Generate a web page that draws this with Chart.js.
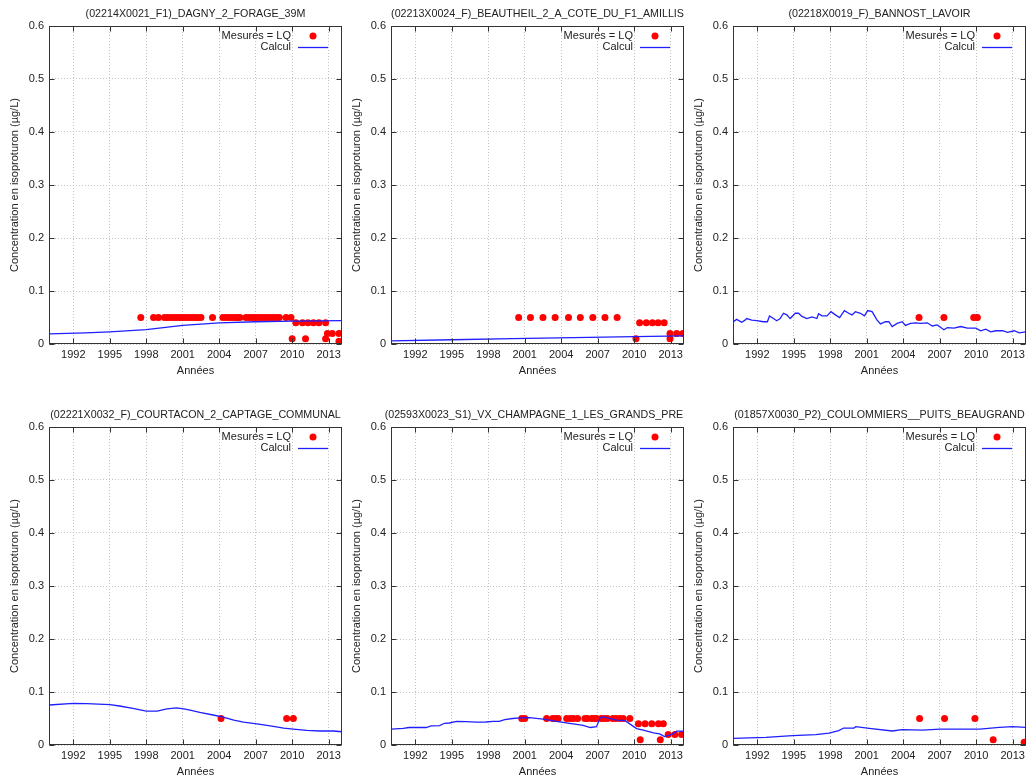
<!DOCTYPE html>
<html lang="fr">
<head>
<meta charset="utf-8">
<title>Concentration en isoproturon</title>
<script src="https://cdn.jsdelivr.net/npm/chart.js@4.4.1/dist/chart.umd.min.js"></script>
<style>
  html, body { margin: 0; padding: 0; background: #fff; overflow: hidden; }
  body { width: 1026px; height: 780px; position: relative; }
  .panel { position: absolute; width: 342px; height: 379px; }
</style>
</head>
<body>
<div class="panel" style="left:0;top:0"><canvas id="c0"></canvas></div>
<div class="panel" style="left:342px;top:0"><canvas id="c1"></canvas></div>
<div class="panel" style="left:684px;top:0"><canvas id="c2"></canvas></div>
<div class="panel" style="left:0;top:401px"><canvas id="c3"></canvas></div>
<div class="panel" style="left:342px;top:401px"><canvas id="c4"></canvas></div>
<div class="panel" style="left:684px;top:401px"><canvas id="c5"></canvas></div>
<script>
// DATA
const panelTitles = [
  "(02214X0021_F1)_DAGNY_2_FORAGE_39M",
  "(02213X0024_F)_BEAUTHEIL_2_A_COTE_DU_F1_AMILLIS",
  "(02218X0019_F)_BANNOST_LAVOIR",
  "(02221X0032_F)_COURTACON_2_CAPTAGE_COMMUNAL",
  "(02593X0023_S1)_VX_CHAMPAGNE_1_LES_GRANDS_PRES",
  "(01857X0030_P2)_COULOMMIERS__PUITS_BEAUGRAND"
];
const seriesLabels = ["Mesures = LQ", "Calcul"];
const xAxisTitle = "Années";
const yAxisTitle = "Concentration en isoproturon (µg/L)";
const xTickYears = [1992, 1995, 1998, 2001, 2004, 2007, 2010, 2013];
const xTickLabels = ["1992", "1995", "1998", "2001", "2004", "2007", "2010", "2013"];
const yTickValues = [0, 0.1, 0.2, 0.3, 0.4, 0.5, 0.6];
const yTickLabels = ["0", "0.1", "0.2", "0.3", "0.4", "0.5", "0.6"];

// DAGNY
const dagnyCalcYears = [1990, 1993, 1995, 1998, 2001, 2004, 2007, 2010, 2014.1];
const dagnyCalcValues = [0.019, 0.021, 0.023, 0.027, 0.035, 0.040, 0.042, 0.043, 0.044];
const dagnyLqYears = [1997.55, 1998.6, 1999.0, 1999.5, 1999.75, 2000.0, 2000.25, 2000.5, 2000.75, 2001.0,
  2001.25, 2001.5, 2001.75, 2002.0, 2002.25, 2002.5, 2003.45, 2004.3, 2004.55, 2004.8,
  2005.05, 2005.3, 2005.5, 2005.7, 2006.2, 2006.45, 2006.7, 2006.95, 2007.2, 2007.45,
  2007.7, 2007.95, 2008.2, 2008.45, 2008.7, 2008.95, 2009.5, 2009.9,
  2010.3, 2010.85, 2011.3, 2011.75, 2012.2, 2012.75,
  2010.0, 2011.1, 2012.75,
  2012.9, 2013.3, 2013.85,
  2013.85];
const dagnyLqValues = [0.05, 0.05, 0.05, 0.05, 0.05, 0.05, 0.05, 0.05, 0.05, 0.05,
  0.05, 0.05, 0.05, 0.05, 0.05, 0.05, 0.05, 0.05, 0.05, 0.05,
  0.05, 0.05, 0.05, 0.05, 0.05, 0.05, 0.05, 0.05, 0.05, 0.05,
  0.05, 0.05, 0.05, 0.05, 0.05, 0.05, 0.05, 0.05,
  0.04, 0.04, 0.04, 0.04, 0.04, 0.04,
  0.01, 0.01, 0.01,
  0.02, 0.02, 0.02,
  0.005];

// BEAUTHEIL
const beautheilCalcYears = [1990, 1995, 2000, 2005, 2010, 2014.1];
const beautheilCalcValues = [0.006, 0.008, 0.010, 0.012, 0.014, 0.0155];
const beautheilLqYears = [2000.5, 2001.47, 2002.5, 2003.5, 2004.6, 2005.57, 2006.6, 2007.6, 2008.6,
  2010.45, 2011.0, 2011.5, 2011.97, 2012.47,
  2010.15, 2012.95,
  2012.95, 2013.5, 2014.0];
const beautheilLqValues = [0.05, 0.05, 0.05, 0.05, 0.05, 0.05, 0.05, 0.05, 0.05,
  0.04, 0.04, 0.04, 0.04, 0.04,
  0.01, 0.01,
  0.02, 0.02, 0.02];

// BANNOST
const bannostCalcYears = [1990.03, 1990.3, 1990.72, 1990.99, 1991.13, 1991.54, 1991.95, 1992.5, 1992.83, 1993.0,
  1993.33, 1993.6, 1993.88, 1994.15, 1994.43, 1994.7, 1995.12, 1995.39, 1995.67, 1996.08,
  1996.49, 1996.9, 1997.04, 1997.32, 1997.73, 1998.06, 1998.42, 1998.77, 1999.16, 1999.52,
  1999.79, 2000.07, 2000.48, 2000.81, 2001.08, 2001.44, 2001.85, 2002.13, 2002.54, 2002.82,
  2003.09, 2003.5, 2003.92, 2004.19, 2004.6, 2005.02, 2005.43, 2005.98, 2006.39, 2006.8,
  2007.35, 2007.63, 2008.18, 2008.73, 2009.28, 2009.97, 2010.38, 2010.79, 2011.2, 2011.62,
  2012.17, 2012.58, 2013.13, 2013.54, 2014.09];
const bannostCalcValues = [0.042, 0.0465, 0.041, 0.045, 0.048, 0.045, 0.044, 0.042, 0.042, 0.053,
  0.048, 0.044, 0.048, 0.058, 0.055, 0.048, 0.058, 0.058, 0.052, 0.048,
  0.051, 0.048, 0.057, 0.053, 0.053, 0.061, 0.055, 0.050, 0.063, 0.058,
  0.055, 0.061, 0.058, 0.053, 0.063, 0.061, 0.045, 0.038, 0.042, 0.042,
  0.033, 0.039, 0.042, 0.035, 0.039, 0.040, 0.039, 0.040, 0.034, 0.036,
  0.027, 0.031, 0.030, 0.033, 0.030, 0.030, 0.025, 0.028, 0.023, 0.025,
  0.025, 0.022, 0.025, 0.021, 0.023];
const bannostLqYears = [2005.3, 2007.35, 2009.8, 2010.1];
const bannostLqValues = [0.05, 0.05, 0.05, 0.05];

// COURTACON
const courtaconCalcYears = [1990.0, 1992.0, 1993.1, 1995.0, 1995.8, 1996.9, 1998.0, 1998.9, 1999.7, 2000.5,
  2001.1, 2001.6, 2002.4, 2003.5, 2004.4, 2005.2, 2006.0, 2007.1, 2008.2, 2009.3,
  2010.1, 2011.2, 2012.3, 2013.4, 2014.1];
const courtaconCalcValues = [0.0755, 0.0786, 0.078, 0.076, 0.0736, 0.069, 0.064, 0.064, 0.068, 0.070,
  0.068, 0.066, 0.0616, 0.0566, 0.052, 0.047, 0.043, 0.040, 0.036, 0.032,
  0.030, 0.0277, 0.0264, 0.0264, 0.025];
const courtaconLqYears = [2004.15, 2009.55, 2010.1];
const courtaconLqValues = [0.05, 0.05, 0.05];

// VX CHAMPAGNE
const champagneCalcYears = [1990.0, 1991.0, 1991.5, 1992.9, 1993.3, 1994.0, 1994.4, 1994.8, 1995.4, 1996.2,
  1997.0, 1997.8, 1998.4, 1998.9, 1999.35, 2000.0, 2000.7, 2001.4, 2002.5, 2003.6,
  2004.7, 2005.8, 2006.4, 2006.9, 2007.2, 2007.45, 2008.55, 2009.25, 2010.2, 2010.75,
  2011.6, 2012.1, 2012.5, 2013.1, 2013.5, 2014.05];
const champagneCalcValues = [0.030, 0.0314, 0.033, 0.033, 0.036, 0.0365, 0.041, 0.0415, 0.0447, 0.044,
  0.043, 0.0434, 0.0447, 0.0447, 0.048, 0.050, 0.051, 0.0516, 0.049, 0.0447,
  0.041, 0.037, 0.033, 0.0346, 0.051, 0.053, 0.047, 0.046, 0.031, 0.028,
  0.023, 0.021, 0.016, 0.020, 0.026, 0.026];
const champagneLqYears = [2000.75, 2001.0, 2002.8, 2003.3, 2003.55, 2003.75, 2004.45, 2004.75, 2005.0, 2005.35,
  2005.95, 2006.15, 2006.5, 2006.7, 2006.9, 2007.3, 2007.55, 2007.8, 2008.25, 2008.5,
  2008.8, 2009.1, 2009.65,
  2010.35, 2010.9, 2011.45, 2012.0, 2012.4,
  2010.5, 2012.15,
  2012.8, 2013.35, 2013.9];
const champagneLqValues = [0.05, 0.05, 0.05, 0.05, 0.05, 0.05, 0.05, 0.05, 0.05, 0.05,
  0.05, 0.05, 0.05, 0.05, 0.05, 0.05, 0.05, 0.05, 0.05, 0.05,
  0.05, 0.05, 0.05,
  0.04, 0.04, 0.04, 0.04, 0.04,
  0.01, 0.01,
  0.02, 0.02, 0.02];

// COULOMMIERS
const coulommiersCalcYears = [1990.0, 1992.7, 1994.9, 1996.8, 1997.9, 1998.7, 1999.1, 1999.95, 2000.1, 2001.2,
  2003.1, 2003.9, 2005.6, 2007.0, 2010.3, 2011.9, 2013.0, 2014.1];
const coulommiersCalcValues = [0.0126, 0.0145, 0.0176, 0.0195, 0.0226, 0.027, 0.032, 0.032, 0.0346, 0.0314,
  0.0264, 0.029, 0.028, 0.030, 0.030, 0.0333, 0.0346, 0.0333];
const coulommiersLqYears = [2005.35, 2007.4, 2009.9, 2011.4, 2013.95];
const coulommiersLqValues = [0.05, 0.05, 0.05, 0.01, 0.005];

const panels = [
  { title: panelTitles[0], calcX: dagnyCalcYears, calcY: dagnyCalcValues, lqX: dagnyLqYears, lqY: dagnyLqValues },
  { title: panelTitles[1], calcX: beautheilCalcYears, calcY: beautheilCalcValues, lqX: beautheilLqYears, lqY: beautheilLqValues },
  { title: panelTitles[2], calcX: bannostCalcYears, calcY: bannostCalcValues, lqX: bannostLqYears, lqY: bannostLqValues },
  { title: panelTitles[3], calcX: courtaconCalcYears, calcY: courtaconCalcValues, lqX: courtaconLqYears, lqY: courtaconLqValues },
  { title: panelTitles[4], calcX: champagneCalcYears, calcY: champagneCalcValues, lqX: champagneLqYears, lqY: champagneLqValues },
  { title: panelTitles[5], calcX: coulommiersCalcYears, calcY: coulommiersCalcValues, lqX: coulommiersLqYears, lqY: coulommiersLqValues }
];

// STYLE
const FONT = '"Liberation Sans", Arial, sans-serif';
const TEXT = '#222';
Chart.defaults.font.family = FONT;
Chart.defaults.font.size = 11;
Chart.defaults.color = TEXT;

// PLUGINS
// Title centred over the plot area (gnuplot style)
const panelTitle = {
  id: 'panelTitle',
  afterDraw(chart, args, opts) {
    const { ctx, chartArea: a } = chart;
    ctx.save();
    ctx.font = '10.7px ' + FONT;
    ctx.fillStyle = TEXT;
    ctx.textAlign = 'center';
    ctx.textBaseline = 'middle';
    ctx.fillText(opts.text, (a.left + a.right) / 2, 14);
    ctx.restore();
  }
};

// Border + inward tick marks on all four sides
const panelFrame = {
  id: 'panelFrame',
  afterDraw(chart) {
    const { ctx, chartArea: a, scales: { x, y } } = chart;
    const L = Math.round(a.left) + 0.5, R = Math.round(a.right) - 0.5;
    const T = Math.round(a.top) + 0.5, B = Math.round(a.bottom) - 0.5;
    ctx.save();
    ctx.strokeStyle = '#333';
    ctx.lineWidth = 1;
    ctx.strokeRect(L, T, R - L, B - T);
    ctx.beginPath();
    x.ticks.forEach(t => {
      const px = Math.round(x.getPixelForValue(t.value)) + 0.5;
      ctx.moveTo(px, B); ctx.lineTo(px, B - 5);
      ctx.moveTo(px, T); ctx.lineTo(px, T + 5);
    });
    y.ticks.forEach(t => {
      const py = Math.round(y.getPixelForValue(t.value)) + 0.5;
      ctx.moveTo(L, py); ctx.lineTo(L + 5, py);
      ctx.moveTo(R, py); ctx.lineTo(R - 5, py);
    });
    ctx.stroke();
    ctx.restore();
  }
};

// Key in the top-right corner: label, then sample on its right
const panelKey = {
  id: 'panelKey',
  afterDraw(chart) {
    const { ctx, chartArea: a } = chart;
    ctx.save();
    ctx.font = '11px ' + FONT;
    ctx.textAlign = 'right';
    ctx.textBaseline = 'middle';
    chart.data.datasets.forEach((ds, i) => {
      const yy = a.top + 10 + i * 11;
      ctx.fillStyle = TEXT;
      ctx.fillText(ds.label, a.right - 51, yy);
      if (ds.showLine) {
        ctx.strokeStyle = ds.borderColor;
        ctx.lineWidth = ds.borderWidth;
        ctx.beginPath();
        ctx.moveTo(a.right - 44, yy + 0.5);
        ctx.lineTo(a.right - 14, yy + 0.5);
        ctx.stroke();
      } else {
        ctx.fillStyle = ds.backgroundColor;
        ctx.beginPath();
        ctx.arc(a.right - 29, yy, ds.pointRadius, 0, Math.PI * 2);
        ctx.fill();
      }
    });
    ctx.restore();
  }
};

// no extra label padding: plot area is fixed by the axis sizes
function fixBox(size) {
  return s => {
    if (s.isHorizontal()) s.height = size; else s.width = size;
    s.paddingLeft = 0; s.paddingRight = 0; s.paddingTop = 0; s.paddingBottom = 0;
  };
}

// CHARTS
function makePanel(id, p) {
  const el = document.getElementById(id);
  if (!el) return;
  new Chart(el, {
    type: 'scatter',
    data: {
      datasets: [
        {
          label: seriesLabels[0],
          data: p.lqX.map((x, i) => ({ x, y: p.lqY[i] })),
          showLine: false,
          pointRadius: 3.5,
          pointHoverRadius: 3.5,
          backgroundColor: '#ff0000',
          borderWidth: 0,
          clip: false,
          order: 2
        },
        {
          label: seriesLabels[1],
          data: p.calcX.map((x, i) => ({ x, y: p.calcY[i] })),
          showLine: true,
          pointRadius: 0,
          borderColor: '#1f1fff',
          borderWidth: 1.3,
          tension: 0,
          order: 1
        }
      ]
    },
    options: {
      responsive: true,
      maintainAspectRatio: false,
      animation: false,
      events: [],
      layout: { autoPadding: false, padding: { top: 26, right: 0, bottom: 0, left: 0 } },
      plugins: {
        legend: { display: false },
        tooltip: { enabled: false },
        panelTitle: { text: p.title }
      },
      scales: {
        x: {
          type: 'linear',
          min: 1990,
          max: 2014.1,
          afterBuildTicks: s => { s.ticks = xTickYears.map(v => ({ value: v })); },
          afterFit: fixBox(35),
          ticks: {
            autoSkip: false,
            maxRotation: 0,
            padding: 0,
            color: TEXT,
            callback: (v, i) => xTickLabels[i]
          },
          grid: { color: '#c4c4c4', lineWidth: 1, drawTicks: true, tickLength: 4, tickColor: 'rgba(0,0,0,0)' },
          border: { display: false, dash: [1, 2] },
          title: { display: true, text: xAxisTitle, color: TEXT, padding: { top: 1, bottom: 1 } }
        },
        y: {
          min: 0,
          max: 0.6,
          afterBuildTicks: s => { s.ticks = yTickValues.map(v => ({ value: v })); },
          afterFit: fixBox(49),
          ticks: {
            padding: 0,
            color: TEXT,
            callback: (v, i) => yTickLabels[i]
          },
          grid: { color: '#c4c4c4', lineWidth: 1, drawTicks: true, tickLength: 5, tickColor: 'rgba(0,0,0,0)' },
          border: { display: false, dash: [1, 2] },
          title: { display: true, text: yAxisTitle, color: TEXT, padding: { top: 8, bottom: 8 } }
        }
      }
    },
    plugins: [panelTitle, panelFrame, panelKey]
  });
}

panels.forEach((p, i) => makePanel('c' + i, p));
</script>
</body>
</html>
